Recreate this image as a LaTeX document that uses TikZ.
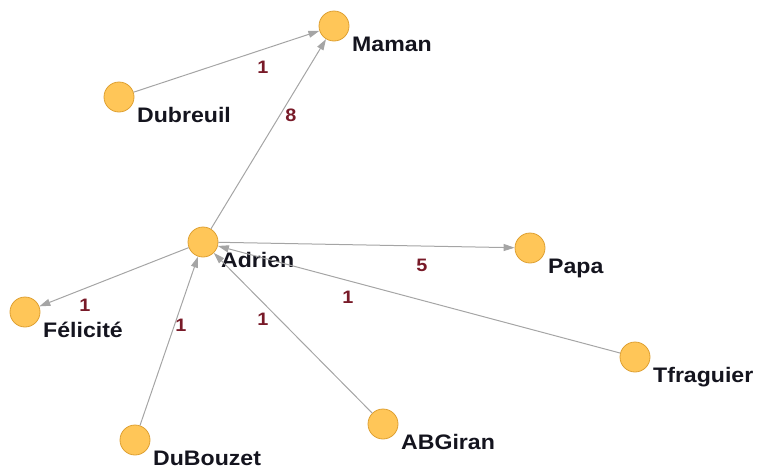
\documentclass[tikz,border=0pt]{standalone}
\usepackage{fontspec}
\newfontfamily\lblfont[FakeStretch=1.1]{Liberation Sans}
\usetikzlibrary{arrows.meta, positioning, calc}
\definecolor{vfill}{RGB}{255,198,88}
\definecolor{vline}{RGB}{222,160,50}
\definecolor{egray}{RGB}{165,165,165}
\definecolor{wred}{RGB}{120,26,40}
\definecolor{tdark}{RGB}{20,20,30}

\begin{document}
\begin{tikzpicture}[x=1pt, y=-1pt,
  vert/.style={circle, fill=vfill, draw=vline, line width=0.8pt, minimum size=30pt, inner sep=0pt},
  lbl/.style={anchor=base west, inner sep=0pt, text=tdark, font=\lblfont\bfseries\fontsize{21}{21}\selectfont},
  wt/.style={text=wred, inner sep=0pt, font=\lblfont\bfseries\fontsize{18}{18}\selectfont},
  edge/.style={draw=egray, line width=1pt, -{Triangle[length=11pt, width=7pt]}}]
  \useasboundingbox (0,0) rectangle (761,469);
  % vertices
  \node[vert] (maman) at (334,26) {};
  \node[vert] (dubreuil) at (119,97) {};
  \node[vert] (adrien) at (203,242) {};
  \node[vert] (papa) at (530,248) {};
  \node[vert] (felicite) at (25,312) {};
  \node[vert] (tfraguier) at (635,357) {};
  \node[vert] (dubouzet) at (135,440) {};
  \node[vert] (abgiran) at (383,424) {};
  % vertex names
  \foreach \v/\t in {maman/Maman, dubreuil/Dubreuil, adrien/Adrien, papa/Papa,
      felicite/Félicité, tfraguier/Tfraguier, dubouzet/DuBouzet, abgiran/ABGiran}
    \node[lbl] (\v-name) at ([shift={(18,25)}]\v.center) {\t};
  % arcs
  \draw[edge] (dubreuil) -- (maman);
  \draw[edge] (adrien) -- (maman);
  \draw[edge] (adrien) -- (papa);
  \draw[edge] (adrien) -- (felicite);
  \draw[edge] (dubouzet) -- (adrien);
  \draw[edge] (abgiran) -- (adrien);
  \draw[edge] (tfraguier) -- (adrien);
  % weights
  \node[wt] (w-dm) at (263,67) {1};
  \node[wt] (w-am) at (291,115) {8};
  \node[wt] (w-ap) at (422,265) {5};
  \node[wt] (w-af) at (85,305) {1};
  \node[wt] (w-da) at (181,325) {1};
  \node[wt] (w-ga) at (263,319) {1};
  \node[wt] (w-ta) at (348,297) {1};
\end{tikzpicture}
\end{document}
